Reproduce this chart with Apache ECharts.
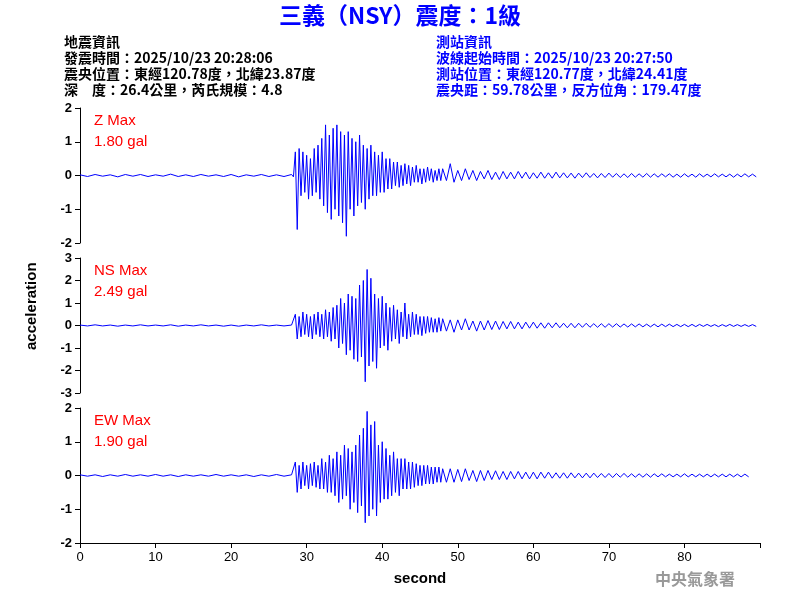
<!DOCTYPE html>
<html><head><meta charset="utf-8">
<script src="https://cdn.jsdelivr.net/npm/echarts@6/dist/echarts.min.js"></script>
<style>body{margin:0}#c{width:800px;height:600px}</style></head>
<body><div id="c"></div>
<script>
// segment layout: pre 0-28 step 1, main 28-48 step 0.25, tail 48-90 step 0.5
const preZ=[0.02,-0.03,0.03,-0.02,0.02,-0.04,0.03,-0.02,0.03,-0.03,0.02,-0.02,0.04,-0.03,0.02,-0.03,0.03,-0.02,0.02,-0.03,0.03,-0.04,0.02,-0.02,0.03,-0.03,0.02,-0.03];
const mainZ=[0.03,-0.04,0.7,-1.6,0.8,-0.6,0.7,-0.5,0.6,-0.7,0.5,-0.6,0.8,-0.5,0.9,-0.7,1.1,-0.9,1.5,-1.1,1.2,-1.3,1.4,-1.0,1.5,-1.2,1.3,-1.4,1.2,-1.8,1.3,-1.0,1.1,-1.2,1.0,-0.9,1.2,-0.8,0.9,-1.0,0.8,-0.7,0.9,-0.6,0.7,-0.6,0.6,-0.5,0.7,-0.5,0.5,-0.4,0.5,-0.4,0.4,-0.3,0.4,-0.35,0.3,-0.3,0.35,-0.25,0.3,-0.3,0.25,-0.2,0.3,-0.2,0.2,-0.25,0.2,-0.2,0.25,-0.15,0.2,-0.2,0.15,-0.15,0.2,-0.15];
const tailZ=[0.2,-0.15,0.35,-0.2,0.15,-0.15,0.2,-0.12,0.15,-0.15,0.12,-0.1,0.15,-0.12,0.1,-0.12,0.12,-0.1,0.1,-0.1,0.12,-0.08,0.1,-0.1,0.08,-0.08,0.1,-0.08,0.08,-0.08,0.1,-0.07,0.08,-0.07,0.07,-0.08,0.07,-0.06,0.08,-0.06,0.06,-0.07,0.06,-0.06,0.07,-0.05,0.06,-0.06,0.05,-0.06,0.06,-0.05,0.05,-0.05,0.06,-0.05,0.05,-0.05,0.05,-0.04,0.05,-0.05,0.04,-0.05,0.05,-0.04,0.04,-0.05,0.05,-0.04,0.04,-0.04,0.05,-0.04,0.04,-0.04,0.04,-0.05,0.04,-0.04,0.05,-0.04,0.04,-0.04];
const preNS=[0.02,-0.02,0.03,-0.02,0.02,-0.03,0.02,-0.02,0.03,-0.02,0.02,-0.02,0.03,-0.03,0.02,-0.02,0.03,-0.02,0.02,-0.03,0.02,-0.03,0.02,-0.02,0.03,-0.02,0.02,-0.02];
const mainNS=[0.02,-0.03,0.5,-0.6,0.4,-0.5,0.6,-0.4,0.5,-0.5,0.4,-0.6,0.5,-0.4,0.6,-0.5,0.5,-0.6,0.7,-0.5,0.6,-0.7,0.8,-0.6,0.9,-1.0,1.2,-0.8,1.0,-1.3,1.4,-1.1,1.3,-1.5,1.2,-1.6,1.8,-1.4,2.0,-2.5,2.49,-1.8,2.1,-1.6,1.4,-1.9,1.2,-1.0,1.3,-0.9,1.0,-1.1,0.8,-0.7,0.9,-0.6,0.7,-0.8,0.6,-0.5,1.0,-0.6,0.5,-0.5,0.6,-0.4,0.5,-0.4,0.4,-0.45,0.4,-0.35,0.4,-0.3,0.35,-0.3,0.3,-0.3,0.35,-0.25];
const tailNS=[0.3,-0.25,0.25,-0.3,0.25,-0.2,0.3,-0.2,0.2,-0.25,0.2,-0.2,0.22,-0.18,0.2,-0.18,0.18,-0.15,0.18,-0.15,0.15,-0.15,0.15,-0.12,0.15,-0.12,0.12,-0.12,0.12,-0.1,0.12,-0.1,0.1,-0.1,0.1,-0.1,0.1,-0.08,0.1,-0.08,0.08,-0.08,0.08,-0.08,0.08,-0.07,0.08,-0.07,0.07,-0.07,0.07,-0.06,0.07,-0.06,0.06,-0.06,0.06,-0.06,0.06,-0.05,0.06,-0.05,0.05,-0.05,0.05,-0.05,0.05,-0.05,0.05,-0.04,0.05,-0.04,0.04,-0.05,0.04,-0.04,0.05,-0.04,0.04,-0.04,0.04,-0.04,0.04,-0.04];
const preEW=[0.02,-0.02,0.02,-0.03,0.02,-0.02,0.03,-0.02,0.02,-0.02,0.03,-0.02,0.02,-0.03,0.02,-0.02,0.02,-0.02,0.03,-0.02,0.02,-0.02,0.02,-0.03,0.02,-0.02,0.03,-0.02];
const mainEW=[0.02,-0.02,0.4,-0.5,0.3,-0.4,0.4,-0.3,0.3,-0.4,0.35,-0.3,0.4,-0.35,0.3,-0.4,0.5,-0.4,0.4,-0.5,0.6,-0.5,0.5,-0.6,0.7,-0.8,0.6,-0.7,0.9,-0.6,0.8,-1.0,0.7,-0.8,0.9,-1.1,1.2,-0.9,1.4,-1.4,1.9,-1.2,1.5,-1.0,1.6,-1.2,0.9,-0.8,1.0,-0.7,0.8,-0.7,0.6,-0.6,0.7,-0.5,0.5,-0.6,0.5,-0.4,0.5,-0.4,0.4,-0.4,0.4,-0.35,0.35,-0.3,0.3,-0.3,0.3,-0.25,0.3,-0.25,0.25,-0.25,0.25,-0.2,0.25,-0.2];
const tailEW=[0.2,-0.2,0.2,-0.2,0.18,-0.18,0.2,-0.15,0.15,-0.18,0.15,-0.15,0.15,-0.12,0.14,-0.12,0.12,-0.12,0.12,-0.1,0.12,-0.1,0.1,-0.1,0.1,-0.1,0.1,-0.08,0.1,-0.08,0.08,-0.08,0.08,-0.08,0.08,-0.07,0.07,-0.07,0.07,-0.07,0.07,-0.06,0.06,-0.06,0.06,-0.06,0.06,-0.05,0.06,-0.05,0.05,-0.05,0.05,-0.05,0.05,-0.05,0.05,-0.04,0.05,-0.04,0.04,-0.04,0.04,-0.04,0.05,-0.04,0.04,-0.04,0.04,-0.04,0.04,-0.04,0.04,-0.04,0.04,-0.04,0.04,-0.04,0.04,-0.04,0.04,-0.04];
const xTicks=[0,10,20,30,40,50,60,70,80];
function build(pre,main,tail){const d=[];pre.forEach((v,i)=>d.push([i,v]));main.forEach((v,i)=>d.push([28+i*0.25,v]));tail.forEach((v,i)=>d.push([48+i*0.5,v]));return d;}
const chans=[{name:'Z',max:'1.80',d:build(preZ,mainZ,tailZ),r:2,top:108},{name:'NS',max:'2.49',d:build(preNS,mainNS,tailNS),r:3,top:258},{name:'EW',max:'1.90',d:build(preEW,mainEW,tailEW),r:2,top:408}];
const F='"Liberation Sans",Arial,sans-serif';
const grid=[],xAxis=[],yAxis=[],series=[],graphic=[];
chans.forEach((c,i)=>{
 grid.push({left:80,right:40,top:c.top,height:135});
 xAxis.push({type:'value',gridIndex:i,min:0,max:90,interval:10,show:i===2,
  axisLine:{onZero:false,lineStyle:{color:'#000'}},axisTick:{inside:false,length:5,lineStyle:{color:'#000'}},
  axisLabel:{color:'#000',fontFamily:F,fontSize:13,formatter:v=>xTicks.includes(v)?v:''},splitLine:{show:false},
  name:i===2?'second':'',nameLocation:'middle',nameGap:28,nameTextStyle:{color:'#000',fontSize:15,fontWeight:'bold',fontFamily:F}});
 yAxis.push({type:'value',gridIndex:i,min:-c.r,max:c.r,interval:1,axisLine:{show:true,lineStyle:{color:'#000'}},axisTick:{show:true,lineStyle:{color:'#000'}},
  axisLabel:{color:'#000',fontFamily:F,fontSize:13,fontWeight:'bold'},splitLine:{show:false}});
 series.push({type:'line',xAxisIndex:i,yAxisIndex:i,data:c.d,showSymbol:false,lineStyle:{color:'#0000ff',width:1},animation:false});
 graphic.push({type:'text',left:94,top:c.top+2,style:{text:c.name+' Max\n'+c.max+' gal',fill:'#ff0000',font:'15px '+F,lineHeight:21}});
});
graphic.push({type:'text',left:'center',top:4,style:{text:'三義（NSY）震度：1級',fill:'#0000ff',font:'bold 23px "Noto Sans CJK TC",sans-serif'}});
graphic.push({type:'text',left:64,top:34,style:{text:'地震資訊\n發震時間：2025/10/23 20:28:06\n震央位置：東經120.78度，北緯23.87度\n深　度：26.4公里，芮氏規模：4.8',fill:'#000',font:'bold 14px "Noto Sans CJK TC",sans-serif',lineHeight:16}});
graphic.push({type:'text',left:436,top:34,style:{text:'測站資訊\n波線起始時間：2025/10/23 20:27:50\n測站位置：東經120.77度，北緯24.41度\n震央距：59.78公里，反方位角：179.47度',fill:'#0000ff',font:'bold 14px "Noto Sans CJK TC",sans-serif',lineHeight:16}});
graphic.push({type:'text',x:24,y:350,rotation:Math.PI/2,style:{text:'acceleration',fill:'#000',font:'bold 15px '+F}});
graphic.push({type:'text',left:655,top:571,style:{text:'中央氣象署',fill:'#999',font:'bold 16px "Noto Sans CJK TC",serif'}});
const ch=echarts.init(document.getElementById('c'));
ch.setOption({backgroundColor:'#fff',animation:false,grid,xAxis,yAxis,series,graphic});
</script></body></html>
